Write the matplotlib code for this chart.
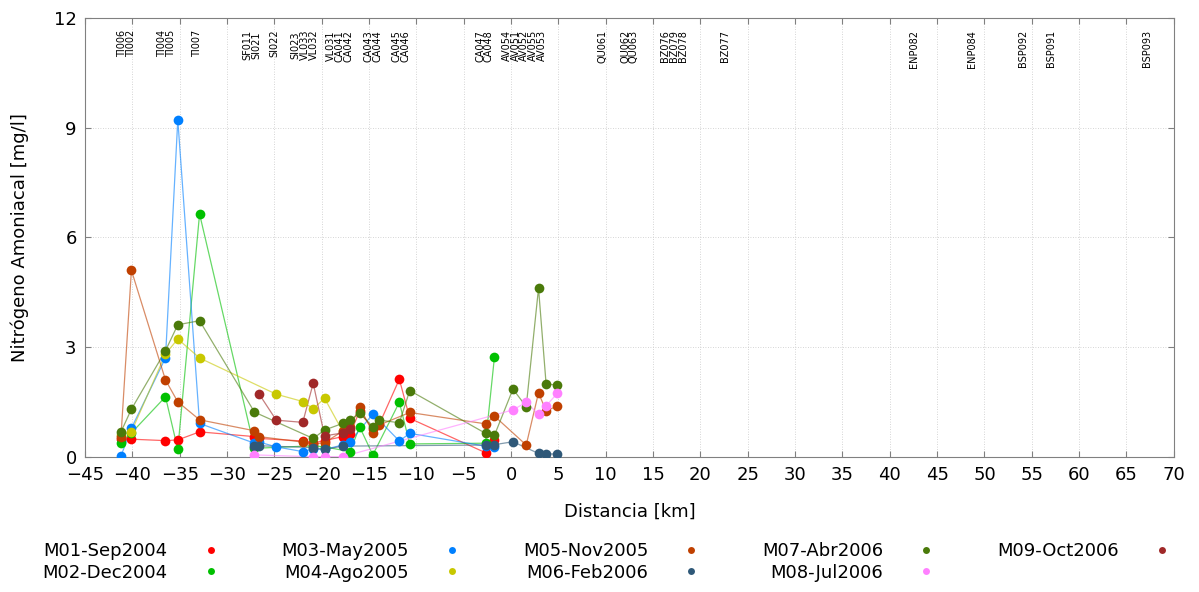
import matplotlib
matplotlib.use("Agg")
import matplotlib.pyplot as plt
import numpy as np
from matplotlib.lines import Line2D

# estaciones con datos (distancia en km)
estaciones = ["TI006", "TI002", "TI004", "TI005", "TI007", "SF011", "SI021", "SI022",
              "SI023", "VL033", "VL032", "VL031", "CA041", "CA042", "CA043", "CA044",
              "CA045", "CA046", "CA047", "CA048", "AV054", "AV051", "AV052", "AV055", "AV053"]
distancia = [-41.2, -40.1, -36.5, -35.2, -32.9, -27.1, -26.6, -24.8,
             -22.0, -20.9, -19.7, -17.8, -17.0, -16.0, -14.6, -13.9,
             -11.8, -10.7, -2.7, -1.75, 0.2, 1.6, 2.9, 3.7, 4.9]

N = None
M01 = [0.48, 0.48, 0.44, 0.46, 0.68, 0.55, 0.50, N, 0.43, 0.38, 0.44, 0.55, 0.62, 1.25, 0.75, 0.90,
       2.12, 1.05, 0.11, 0.46, N, N, N, N, N]
M02 = [0.37, 0.65, 1.64, 0.20, 6.64, 0.23, N, N, N, 0.30, 0.27, N, 0.14, 0.82, 0.05, N,
       1.49, 0.35, 0.37, 2.74, N, N, N, N, N]
M03 = [0.02, 0.78, 2.70, 9.22, 0.91, 0.37, 0.40, 0.27, 0.14, 0.21, 0.20, 0.32, 0.41, N, 1.17, N,
       0.43, 0.64, 0.29, 0.27, N, N, N, N, N]
M04 = [0.60, 0.68, 2.81, 3.22, 2.70, N, N, 1.71, 1.51, 1.31, 1.60, 0.70, N, N, N, N,
       N, N, N, N, N, N, N, N, N]
M05 = [0.55, 5.10, 2.10, 1.50, 1.01, 0.71, 0.55, N, 0.40, 0.35, 0.38, 0.70, 0.80, 1.37, 0.66, 0.87,
       N, 1.21, 0.90, 1.11, N, 0.32, 1.75, 1.25, 1.39]
M06 = [N, N, N, N, N, 0.30, 0.30, N, N, 0.25, 0.20, 0.29, N, N, N, N,
       N, N, 0.32, 0.33, 0.41, N, 0.09, 0.08, 0.07]
M07 = [0.68, 1.30, 2.90, 3.61, 3.72, 1.22, N, N, N, 0.50, 0.73, 0.91, 1.00, 1.19, 0.82, 1.00,
       0.93, 1.81, 0.64, 0.59, 1.85, 1.37, 4.61, 1.99, 1.96]
M08 = [N, N, N, N, N, 0.05, N, N, N, 0.00, 0.00, 0.00, N, N, N, N,
       N, N, N, N, 1.28, 1.49, 1.16, 1.39, 1.74]
M09 = [N, N, N, N, N, N, 1.71, 1.00, 0.94, 2.01, 0.57, 0.65, 0.75, N, N, N,
       N, N, N, N, N, N, N, N, N]

series = [M01, M02, M03, M04, M05, M06, M07, M08, M09]
nombres = ["M01-Sep2004", "M02-Dec2004", "M03-May2005", "M04-Ago2005", "M05-Nov2005",
           "M06-Feb2006", "M07-Abr2006", "M08-Jul2006", "M09-Oct2006"]
colores = ["#ff0000", "#00c000", "#0080ff", "#c8c800", "#c04000",
           "#2f5878", "#4a7a0a", "#ff80ff", "#a02828"]

# etiquetas de estaciones en la parte superior
grupos = ["TI006\nTI002", "TI004\nTI005", "TI007", "SF011\nSI021", "SI022",
          "SI023\nVL033\nVL032", "VL031\nCA041\nCA042", "CA043\nCA044", "CA045\nCA046",
          "CA047\nCA048", "AV054\nAV051\nAV052\nAV055\nAV053", "QU061", "QU062\nQU063",
          "BZ076\nBZ079\nBZ078", "BZ077", "ENP082", "ENP084", "BSP092", "BSP091", "BSP093"]
pos_grupos = [-40.6, -36.4, -33.2, -27.4, -25.0, -21.8, -18.1, -14.6, -11.6,
              -2.8, 1.4, 9.7, 12.5, 17.2, 22.6, 42.6, 48.7, 54.1, 57.0, 67.2]

fig = plt.figure(figsize=(11.99, 5.92), dpi=100)
ax = fig.add_axes([0.0709, 0.2285, 0.9081, 0.7411])

x = np.array(distancia)
for vals, nom, col in zip(series, nombres, colores):
    y = np.array([np.nan if v is None else v for v in vals], dtype=float)
    ok = ~np.isnan(y)
    ax.plot(x[ok], y[ok], '-', color=col, lw=0.9, alpha=0.6, zorder=2)
    ax.plot(x[ok], y[ok], 'o', color=col, ms=7, mew=0, zorder=3)

for lab, p in zip(grupos, pos_grupos):
    ax.text(p, 0.973, lab, transform=ax.get_xaxis_transform(), rotation=90,
            ha='center', va='top', fontsize=7, linespacing=0.85)

ax.set_xlim(-45, 70)
ax.set_ylim(0, 12)
ax.set_xticks(np.arange(-45, 71, 5))
ax.set_yticks([0, 3, 6, 9, 12])
ax.tick_params(direction='in', top=True, right=True, length=4, labelsize=13,
               color='#808080')
ax.tick_params(axis='x', pad=7)
ax.tick_params(axis='y', pad=6)
ax.grid(True, color='#c8c8c8', lw=0.6, ls=(0, (1, 2)))
for s in ax.spines.values():
    s.set_color('#808080')

ax.set_xlabel("Distancia [km]", fontsize=13, labelpad=13)
ax.set_ylabel("Nitrógeno Amoniacal [mg/l]", fontsize=13, labelpad=18)

handles = [Line2D([], [], ls='none', marker='o', ms=5, mew=0, color=c) for c in colores]
fig.legend(handles, nombres, loc='center', bbox_to_anchor=(0.506, 0.051), ncol=5,
           frameon=False, markerfirst=False, fontsize=13, handlelength=1.0,
           handletextpad=1.9, columnspacing=3.4, labelspacing=0.2)

fig.savefig("out.png", dpi=100)
